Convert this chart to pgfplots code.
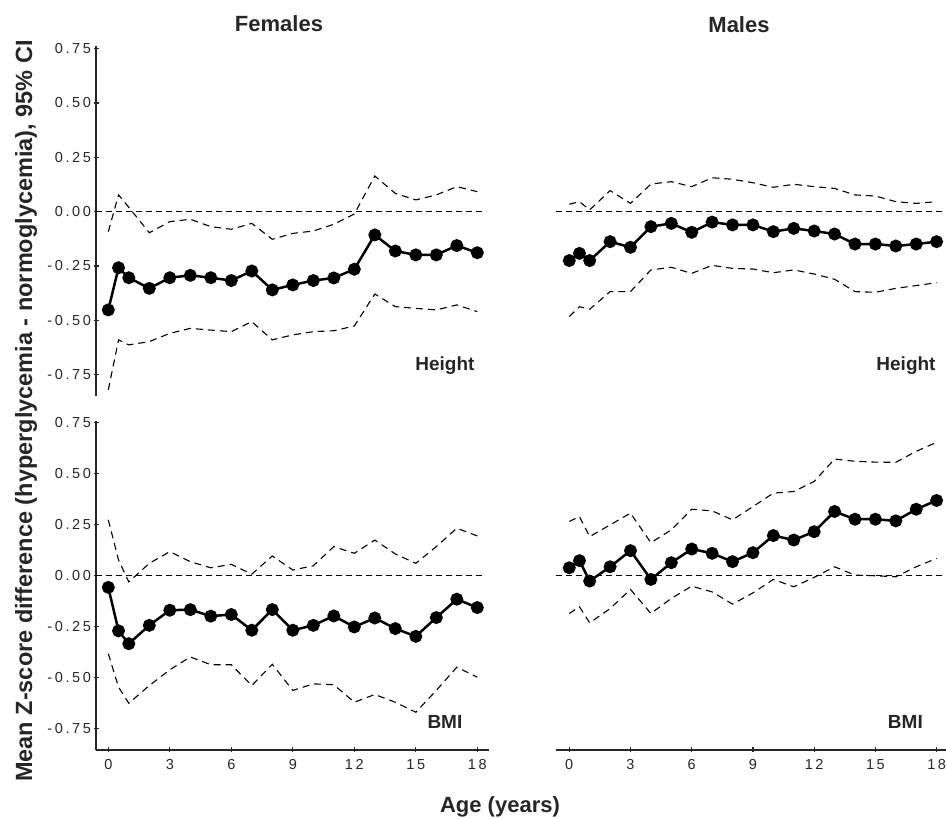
\documentclass[border=0pt]{standalone}
\usepackage{fontspec}
\setmainfont{Liberation Sans}
\newfontfamily\tickfont[LetterSpace=18]{Liberation Sans}
\usepackage{pgfplots}
\usepackage{pgfplotstable}
\pgfplotsset{compat=1.18}

\pgfplotstableread{
age mean lo hi
0 -0.452 -0.82 -0.092
0.5 -0.258 -0.59 0.077
1 -0.304 -0.613 0.020
2 -0.353 -0.598 -0.097
3 -0.304 -0.560 -0.046
4 -0.293 -0.537 -0.035
5 -0.304 -0.545 -0.069
6 -0.317 -0.552 -0.081
7 -0.273 -0.506 -0.054
8 -0.360 -0.590 -0.127
9 -0.337 -0.567 -0.100
10 -0.317 -0.552 -0.089
11 -0.305 -0.548 -0.058
12 -0.265 -0.526 -0.011
13 -0.107 -0.379 0.164
14 -0.181 -0.437 0.084
15 -0.199 -0.445 0.054
16 -0.199 -0.452 0.077
17 -0.156 -0.429 0.115
18 -0.189 -0.460 0.092
}\HF

\pgfplotstableread{
age mean lo hi
0 -0.225 -0.483 0.034
0.5 -0.192 -0.437 0.046
1 -0.225 -0.449 0.008
2 -0.138 -0.368 0.097
3 -0.164 -0.368 0.038
4 -0.069 -0.268 0.127
5 -0.054 -0.256 0.138
6 -0.095 -0.284 0.115
7 -0.048 -0.247 0.156
8 -0.061 -0.261 0.149
9 -0.061 -0.264 0.133
10 -0.092 -0.281 0.112
11 -0.077 -0.268 0.126
12 -0.089 -0.287 0.115
13 -0.103 -0.311 0.107
14 -0.149 -0.368 0.077
15 -0.149 -0.371 0.072
16 -0.158 -0.353 0.046
17 -0.149 -0.340 0.038
18 -0.138 -0.327 0.046
}\HM

\pgfplotstableread{
age mean lo hi
0 -0.057 -0.382 0.274
0.5 -0.270 -0.546 0.077
1 -0.333 -0.625 -0.030
2 -0.243 -0.538 0.061
3 -0.169 -0.461 0.118
4 -0.166 -0.398 0.069
5 -0.198 -0.436 0.039
6 -0.190 -0.436 0.056
7 -0.267 -0.538 0.008
8 -0.166 -0.434 0.097
9 -0.267 -0.562 0.028
10 -0.243 -0.530 0.049
11 -0.197 -0.534 0.143
12 -0.251 -0.620 0.110
13 -0.207 -0.582 0.175
14 -0.259 -0.620 0.107
15 -0.297 -0.669 0.061
16 -0.205 -0.562 0.143
17 -0.115 -0.448 0.233
18 -0.156 -0.497 0.195
}\BF

\pgfplotstableread{
age mean lo hi
0 0.039 -0.185 0.266
0.5 0.074 -0.152 0.290
1 -0.026 -0.231 0.192
2 0.044 -0.161 0.249
3 0.123 -0.067 0.307
4 -0.018 -0.185 0.162
5 0.064 -0.111 0.225
6 0.131 -0.051 0.326
7 0.110 -0.079 0.318
8 0.069 -0.139 0.274
9 0.113 -0.084 0.339
10 0.197 -0.018 0.405
11 0.175 -0.054 0.413
12 0.216 -0.008 0.462
13 0.315 0.044 0.572
14 0.277 0.003 0.561
15 0.277 0.000 0.557
16 0.269 -0.005 0.556
17 0.326 0.044 0.610
18 0.369 0.085 0.654
}\BM

\pgfplotsset{
  panel/.style={
    scale only axis,
    clip=false,
    tick style={line width=1.2pt, black!85},
    tick align=outside,
    major tick length=5pt,
    xtick={0,3,6,9,12,15,18},
    xticklabels={0,3,6,9,12,15,18},
    ytick={-0.75,-0.5,-0.25,0,0.25,0.5,0.75},
    yticklabels={-0.75,-0.50,-0.25,0.00,0.25,0.50,0.75},
    ticklabel style={font=\tickfont\fontsize{14.5}{16}\selectfont, text=black!85},
    xticklabel style={yshift=-3pt},
    yticklabel style={xshift=1pt},
  },
  noarrow/.style={axis line style={-, line width=1.3pt, black!85}},
}
\tikzset{
  ci/.style={black, line width=1.1pt, dash pattern=on 7pt off 5pt},
  zero/.style={black, line width=1.1pt, dash pattern=on 6pt off 4pt},
  mn/.style={black, line width=2.5pt, mark=*, mark size=5.2pt, mark options={solid}},
  lab/.style={font=\bfseries\fontsize{19}{22}\selectfont, anchor=base, text=black!85},
}

\begin{document}
\begin{tikzpicture}[x=1pt,y=1pt]
\path[use as bounding box] (0pt,0pt) rectangle (946pt,819pt);

% Top-left: Females, Height
\begin{axis}[panel, at={(96pt,422.6pt)}, anchor=south west,
  width=393pt, height=349.9pt,
  xmin=-0.6, xmax=18.57, ymin=-0.85, ymax=0.76,
  hide x axis, axis y line=left, noarrow]
\addplot[zero] coordinates {(-0.6,0) (18.3,0)};
\addplot[ci] table[x=age,y=lo]{\HF};
\addplot[ci] table[x=age,y=hi]{\HF};
\addplot[mn] table[x=age,y=mean]{\HF};
\node[lab] at (axis cs:16.42,-0.733) {Height};
\end{axis}

% Top-right: Males, Height
\begin{axis}[panel, at={(556pt,422.6pt)}, anchor=south west,
  width=390pt, height=349.9pt,
  xmin=-0.65, xmax=18.46, ymin=-0.85, ymax=0.76,
  hide x axis, hide y axis]
\addplot[zero] coordinates {(-0.65,0) (18.46,0)};
\addplot[ci] table[x=age,y=lo]{\HM};
\addplot[ci] table[x=age,y=hi]{\HM};
\addplot[mn] table[x=age,y=mean]{\HM};
\node[lab] at (axis cs:16.5,-0.733) {Height};
\end{axis}

% Bottom-left: Females, BMI
\begin{axis}[panel, at={(96pt,69pt)}, anchor=south west,
  width=393pt, height=329.3pt,
  xmin=-0.6, xmax=18.57, ymin=-0.854, ymax=0.76,
  axis x line=bottom, axis y line=left, noarrow]
\addplot[zero] coordinates {(-0.6,0) (18.3,0)};
\addplot[ci] table[x=age,y=lo]{\BF};
\addplot[ci] table[x=age,y=hi]{\BF};
\addplot[mn] table[x=age,y=mean]{\BF};
\node[lab] at (axis cs:16.42,-0.751) {BMI};
\end{axis}

% Bottom-right: Males, BMI
\begin{axis}[panel, at={(556pt,69pt)}, anchor=south west,
  width=390pt, height=329.3pt,
  xmin=-0.65, xmax=18.46, ymin=-0.854, ymax=0.76,
  axis x line=bottom, hide y axis, noarrow]
\addplot[zero] coordinates {(-0.65,0) (18.46,0)};
\addplot[ci] table[x=age,y=lo]{\BM};
\addplot[ci] table[x=age,y=hi]{\BM};
\addplot[mn] table[x=age,y=mean]{\BM};
\node[lab] at (axis cs:16.47,-0.751) {BMI};
\end{axis}

\node[font=\bfseries\fontsize{22}{26}\selectfont, anchor=base, text=black!85] at (279pt,787pt) {Females};
\node[font=\bfseries\fontsize{22}{26}\selectfont, anchor=base, text=black!85] at (739pt,786pt) {Males};
\node[font=\bfseries\fontsize{22}{26}\selectfont, anchor=base, text=black!85] at (500pt,6pt) {Age (years)};
\node[font=\bfseries\fontsize{23.5}{27}\selectfont, anchor=base, rotate=90, text=black!85] at (32pt,408pt) {Mean Z-score difference (hyperglycemia - normoglycemia), 95\% CI};
\end{tikzpicture}
\end{document}
